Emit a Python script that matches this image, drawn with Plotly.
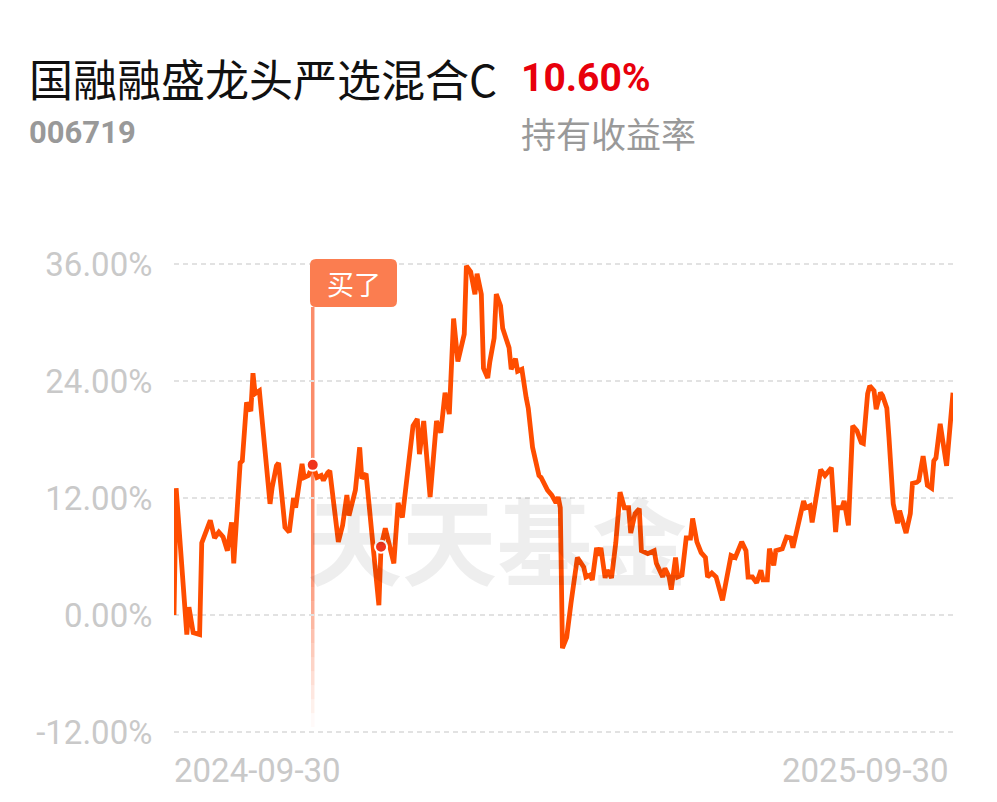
import pandas as pd
import plotly.graph_objects as go

# ---- data ----
fund_name = "国融融盛龙头严选混合C"
fund_code = "006719"
holding_return = "10.60%"
holding_label = "持有收益率"
start_date = "2024-09-30"
end_date = "2025-09-30"
x_tick_labels = ["2024-09-30", "2025-09-30"]
y_ticks = [-12, 0, 12, 24, 36]
y_tick_labels = ["-12.00%", "0.00%", "12.00%", "24.00%", "36.00%"]

# days since 2024-09-30
days = [0, 1, 6, 7, 9, 12, 13, 17, 19, 21, 23, 25, 27, 28, 31, 32, 34, 36, 37, 38,
        40, 42, 45, 46, 48, 49, 52, 54, 56, 57, 60, 61, 63, 65, 67, 69, 70, 72, 73, 77,
        79, 81, 82, 85, 87, 88, 90, 93, 96, 97, 99, 103, 105, 107, 112, 114, 115, 117, 120, 123,
        125, 127, 129, 131, 133, 136, 137, 139, 141, 142, 144, 145, 147, 148, 150, 151, 153, 154, 157, 158,
        160, 161, 163, 165, 166, 168, 171, 172, 175, 177, 179, 180, 181, 182, 184, 186, 187, 189, 192, 193,
        195, 196, 198, 199, 200, 202, 203, 205, 207, 209, 211, 213, 214, 216, 218, 219, 222, 225, 226, 229,
        230, 232, 233, 235, 236, 238, 240, 242, 243, 245, 247, 249, 250, 252, 254, 257, 261, 263, 266, 268,
        269, 271, 273, 275, 276, 278, 279, 281, 282, 285, 287, 289, 290, 293, 295, 296, 298, 299, 302, 303,
        305, 307, 308, 310, 311, 313, 314, 316, 318, 320, 322, 323, 325, 326, 328, 329, 331, 332, 334, 335,
        337, 339, 340, 341, 343, 345, 346, 348, 349, 351, 353, 355, 356, 357, 359, 362, 365]
returns = [0.0, 13.0, -2.0, 0.8, -1.8, -2.0, 7.4, 9.7, 7.9, 8.5, 8.0, 6.6, 9.5, 5.3, 15.6, 15.8, 21.8, 20.9, 24.8, 22.7,
           23.0, 18.6, 11.4, 13.1, 15.3, 15.6, 9.0, 8.5, 12.0, 11.0, 15.5, 14.1, 14.3, 15.4, 14.1, 14.3, 13.8, 14.6, 14.8, 7.5,
           9.2, 12.3, 10.2, 12.8, 17.2, 14.0, 14.5, 7.7, 1.0, 7.0, 8.9, 5.3, 11.5, 10.0, 19.4, 20.1, 16.5, 19.9, 12.1, 19.9,
           18.7, 22.8, 20.6, 30.4, 26.0, 28.8, 35.8, 35.2, 32.9, 35.0, 32.9, 25.3, 24.3, 26.0, 28.4, 32.9, 31.7, 29.4, 27.4, 25.2,
           26.3, 25.0, 25.2, 22.3, 21.2, 17.2, 14.3, 14.1, 12.8, 12.3, 11.5, 12.1, 11.0, -3.4, -2.3, 1.2, 2.6, 5.9, 4.9, 3.9,
           4.1, 3.6, 6.9, 6.1, 6.9, 3.8, 4.6, 3.8, 7.4, 12.6, 11.0, 11.0, 8.4, 10.4, 10.9, 6.6, 6.3, 6.6, 5.3, 3.9,
           4.8, 3.9, 2.6, 5.9, 3.9, 4.1, 7.9, 7.9, 9.9, 7.5, 6.4, 5.9, 3.9, 4.3, 3.9, 1.5, 6.1, 5.9, 7.5, 6.6,
           3.9, 3.9, 3.3, 4.6, 3.6, 3.6, 6.8, 5.1, 6.6, 6.8, 8.0, 7.9, 6.9, 9.5, 11.7, 11.0, 11.2, 9.5, 13.8, 14.9,
           14.3, 14.8, 15.1, 8.5, 11.0, 11.0, 11.7, 9.2, 19.4, 18.9, 17.7, 17.6, 22.7, 23.5, 23.0, 21.1, 22.8, 22.5, 21.2, 18.2,
           11.4, 9.4, 10.7, 9.9, 8.4, 10.4, 13.5, 13.6, 13.8, 16.3, 13.3, 13.0, 15.8, 16.1, 19.6, 15.3, 22.8]

buy_label = "买了"
buy_day = [65]
buy_value = [15.4]
dot_days = [65, 97]
dot_values = [15.4, 7.0]

# ---- build ----
t0 = pd.Timestamp(start_date)
dates = t0 + pd.to_timedelta(days, unit="D")
buy_dates = t0 + pd.to_timedelta(buy_day, unit="D")
dot_dates = t0 + pd.to_timedelta(dot_days, unit="D")

OFF = 8  # browser body margin
W, H = 997 - 2 * OFF, 802 - 2 * OFF
L, T = 174 - OFF, 262 - OFF
R = W - (953 - OFF)
B = H - (734 - OFF)
PW, PH = W - L - R, H - T - B


def px_x(px):
    return (px - OFF - L) / PW


def px_y(py):
    return (H - B - (py - OFF)) / PH


LINE = "#ff4d00"
GRAY = "#c9c9c9"

fig = go.Figure()
fig.add_trace(go.Scatter(x=dates, y=returns, mode="lines",
                         line=dict(color=LINE, width=4.8), hoverinfo="skip",
                         showlegend=False))
fig.add_trace(go.Scatter(x=dot_dates, y=dot_values, mode="markers",
                         marker=dict(size=12, color="#f0341c",
                                     line=dict(color="white", width=2)),
                         showlegend=False, hoverinfo="skip"))

# buy marker vertical line, fading downward
top_py, solid_py, bot_py = 307, 560, 727
fig.add_shape(type="line", xref="x", yref="paper", x0=buy_dates[0], x1=buy_dates[0],
              y0=px_y(solid_py), y1=px_y(top_py),
              line=dict(color="rgba(250,120,80,0.85)", width=3.5), layer="below")
steps = 12
for i in range(steps):
    a = 0.85 * (1 - (i + 0.5) / steps)
    y0 = solid_py + (bot_py - solid_py) * i / steps
    y1 = solid_py + (bot_py - solid_py) * (i + 1) / steps
    fig.add_shape(type="line", xref="x", yref="paper", x0=buy_dates[0], x1=buy_dates[0],
                  y0=px_y(y1), y1=px_y(y0),
                  line=dict(color=f"rgba(250,120,80,{a:.3f})", width=3.5), layer="below")

# buy label box (rounded)
bx0, bx1, by0, by1, r = 310, 397, 259, 307, 6
def P(x, y):
    return f"{px_x(x):.5f},{px_y(y):.5f}"
path = (f"M {P(bx0 + r, by0)} L {P(bx1 - r, by0)} Q {P(bx1, by0)} {P(bx1, by0 + r)} "
        f"L {P(bx1, by1 - r)} Q {P(bx1, by1)} {P(bx1 - r, by1)} "
        f"L {P(bx0 + r, by1)} Q {P(bx0, by1)} {P(bx0, by1 - r)} "
        f"L {P(bx0, by0 + r)} Q {P(bx0, by0)} {P(bx0 + r, by0)} Z")
fig.add_shape(type="path", xref="paper", yref="paper", path=path,
              fillcolor="#fb7d50", line=dict(width=0))

ann = []
ann.append(dict(text=buy_label, xref="paper", yref="paper", x=px_x((bx0 + bx1) / 2),
                y=px_y((by0 + by1) / 2), xanchor="center", yanchor="middle", showarrow=False,
                font=dict(family="Noto Sans CJK SC", size=27, color="white")))
# watermark
ann.append(dict(text="天天基金", xref="paper", yref="paper", x=px_x(497), y=px_y(537),
                xanchor="center", yanchor="middle", showarrow=False,
                font=dict(family="Noto Sans CJK SC", size=95, color="rgba(0,0,0,0.065)", weight=700)))
# header texts
ann.append(dict(text=fund_name, xref="paper", yref="paper", x=px_x(27), y=px_y(78),
                xanchor="left", yanchor="middle", showarrow=False,
                font=dict(family="Noto Sans CJK SC", size=44, color="#111111")))
ann.append(dict(text=f"<b>{holding_return}</b>", xref="paper", yref="paper", x=px_x(519), y=px_y(78),
                xanchor="left", yanchor="middle", showarrow=False,
                font=dict(family="Roboto", size=39, color="#e8000c")))
ann.append(dict(text=f"<b>{fund_code}</b>", xref="paper", yref="paper", x=px_x(27), y=px_y(132),
                xanchor="left", yanchor="middle", showarrow=False,
                font=dict(family="Roboto", size=31, color="#999999")))
ann.append(dict(text=holding_label, xref="paper", yref="paper", x=px_x(519), y=px_y(133),
                xanchor="left", yanchor="middle", showarrow=False,
                font=dict(family="Noto Sans CJK SC", size=35, color="#999999")))
# x labels at ends
ann.append(dict(text=x_tick_labels[0], xref="paper", yref="paper", x=px_x(172), y=px_y(770),
                xanchor="left", yanchor="middle", showarrow=False,
                font=dict(family="Roboto", size=33, color=GRAY)))
ann.append(dict(text=x_tick_labels[1], xref="paper", yref="paper", x=px_x(951), y=px_y(770),
                xanchor="right", yanchor="middle", showarrow=False,
                font=dict(family="Roboto", size=33, color=GRAY)))

fig.update_layout(
    width=W, height=H, margin=dict(l=L, r=R, t=T, b=B),
    paper_bgcolor="white", plot_bgcolor="white",
    annotations=ann, showlegend=False,
    xaxis=dict(range=[dates[0], dates[-1]], showgrid=False, zeroline=False,
               showticklabels=False, showline=False, fixedrange=True),
    yaxis=dict(range=[-12.2, 36.2], tickvals=y_ticks, ticktext=y_tick_labels,
               showgrid=True, gridcolor="#e2e2e2", gridwidth=2, griddash="5px,4px",
               zeroline=False, showline=False, ticks="outside", ticklen=14,
               tickcolor="rgba(0,0,0,0)", tickfont=dict(family="Roboto", size=33, color=GRAY),
               fixedrange=True),
)

fig.write_html("out.html")
